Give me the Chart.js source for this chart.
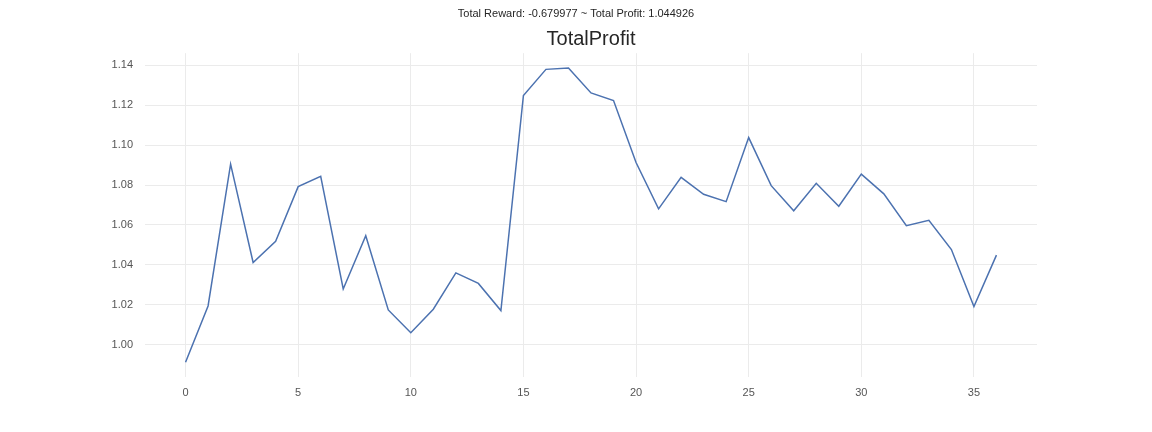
<!DOCTYPE html>
<html>
<head>
<meta charset="utf-8">
<script src="https://cdn.jsdelivr.net/npm/chart.js@4"></script>
<style>
html,body{margin:0;padding:0;background:#fff;}
#wrap{width:1152px;height:432px;}
</style>
</head>
<body>
<div id="wrap"><canvas id="c" width="1152" height="432"></canvas></div>
<script>
const supTitle = "Total Reward: -0.679977 ~ Total Profit: 1.044926";
const chartTitle = "TotalProfit";
const steps = [0,1,2,3,4,5,6,7,8,9,10,11,12,13,14,15,16,17,18,19,20,21,22,23,24,25,26,27,28,29,30,31,32,33,34,35,36];
const totalProfit = [0.9912,1.0194,1.0905,1.0412,1.0518,1.0792,1.0844,1.0279,1.0546,1.0174,1.0060,1.0178,1.0360,1.0307,1.0171,1.1249,1.1380,1.1387,1.1262,1.1224,1.0913,1.0681,1.0839,1.0754,1.0717,1.1038,1.0797,1.0671,1.0809,1.0694,1.0855,1.0756,1.0596,1.0623,1.0477,1.0191,1.0449];
const yTicks = [1.00,1.02,1.04,1.06,1.08,1.10,1.12,1.14];
const xTicks = [0,5,10,15,20,25,30,35];

const points = steps.map((s,i)=>({x:s,y:totalProfit[i]}));
const gridColor = '#ebebeb';
const tickColor = '#555555';
const fontFamily = '"Liberation Sans", Arial, sans-serif';

new Chart(document.getElementById('c'), {
  type: 'line',
  data: {
    datasets: [{
      label: chartTitle,
      data: points,
      borderColor: '#4c72b0',
      borderWidth: 1.5,
      pointRadius: 0,
      tension: 0,
      fill: false,
      yAxisID: 'y'
    }]
  },
  options: {
    responsive: false,
    animation: false,
    devicePixelRatio: 1,
    layout: {padding: 0},
    plugins: {
      legend: {display: false},
      tooltip: {enabled: false},
      title: {
        display: true,
        text: supTitle,
        color: '#262626',
        font: {family: fontFamily, size: 11, weight: 'normal', lineHeight: 1.2},
        padding: {top: 7, bottom: 4}
      },
      subtitle: {
        display: true,
        text: chartTitle,
        fullSize: false,
        color: '#262626',
        font: {family: fontFamily, size: 20, weight: 'normal', lineHeight: 1.2},
        padding: {top: 3, bottom: 2}
      }
    },
    scales: {
      x: {
        type: 'linear',
        min: -1.8,
        max: 37.8,
        afterBuildTicks: (s) => { s.ticks = xTicks.map(v => ({value: v})); },
        afterFit: (s) => { s.height = 55; },
        border: {display: false},
        grid: {color: gridColor, lineWidth: 1, drawTicks: false},
        ticks: {color: tickColor, padding: 9, font: {family: fontFamily, size: 11}, callback: (v) => String(v)}
      },
      y: {
        type: 'linear',
        position: 'left',
        min: 0.9838,
        max: 1.1461,
        afterBuildTicks: (s) => { s.ticks = yTicks.map(v => ({value: v})); },
        afterFit: (s) => { s.width = 145; },
        border: {display: false},
        grid: {color: gridColor, lineWidth: 1, drawTicks: false},
        ticks: {color: tickColor, padding: 12, font: {family: fontFamily, size: 11}, callback: (v) => Number(v).toFixed(2)}
      },
      yRight: {
        type: 'linear',
        position: 'right',
        min: 0,
        max: 1,
        afterFit: (s) => { s.width = 115; },
        border: {display: false},
        grid: {display: false, drawTicks: false},
        ticks: {display: false}
      }
    }
  }
});
</script>
</body>
</html>
